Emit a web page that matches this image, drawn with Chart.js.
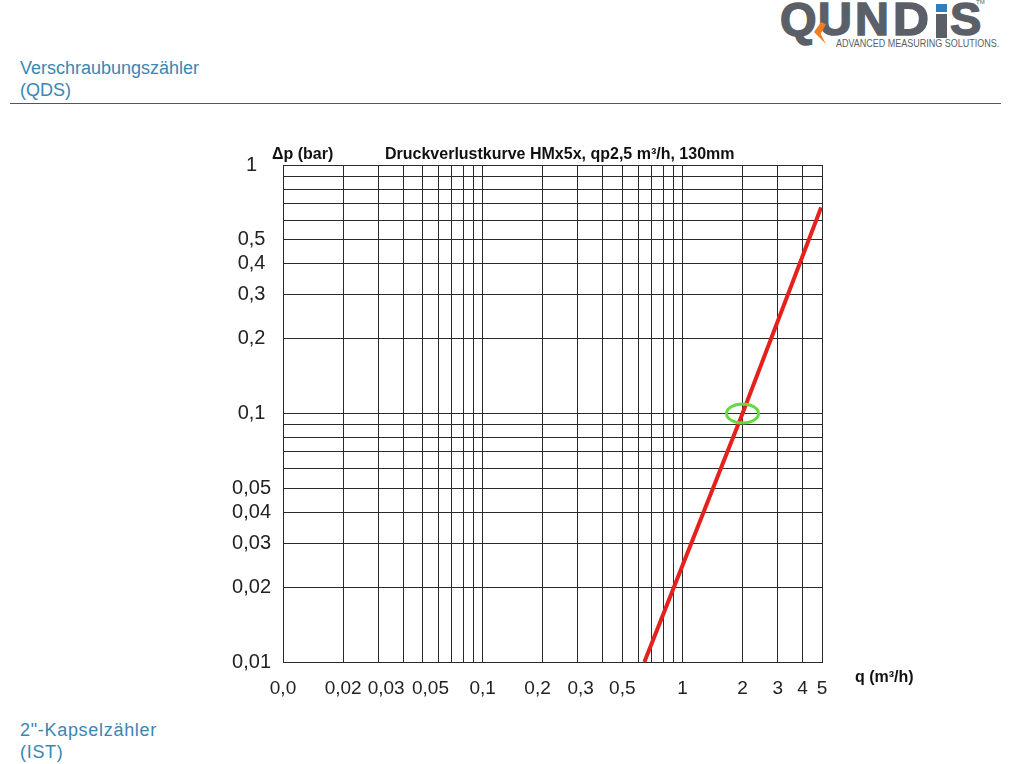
<!DOCTYPE html>
<html>
<head>
<meta charset="utf-8">
<script src="https://cdn.jsdelivr.net/npm/chart.js@4.4.1/dist/chart.umd.min.js"></script>
<style>
  body { margin: 0; background: #fff; font-family: "Liberation Sans", Arial, sans-serif; }
  #page { position: relative; width: 1024px; height: 764px; overflow: hidden; }
  .blue { position: absolute; left: 20px; color: #3a86b3; font-size: 18px; line-height: 22px; }
  #rule { position: absolute; left: 10px; top: 103px; width: 991px; height: 1px; background: #555; }
  #logo span, #logo div { position: absolute; }
  #logo .l { top: -9px; font-size: 47px; font-weight: bold; color: #5b6068; -webkit-text-stroke: 1.5px #5b6068; }
  #logo .stem { left: 936px; top: 14px; width: 11px; height: 24px; background: #5b6068; }
  #logo .dot { left: 936px; top: 4px; width: 11px; height: 8px; background: #2f7fc0; }
  #logo .flash { left: 814px; top: 22px; width: 12px; height: 22px; background: #f07d1e;
                 clip-path: polygon(60% 0, 100% 10%, 55% 55%, 100% 100%, 0 45%); }
  #logo .tm { left: 976px; top: -1px; font-size: 6px; color: #5b6068; }
  #logo .sub { left: 836px; top: 38px; font-size: 10px; color: #5b6068; white-space: nowrap;
               transform: scaleX(0.9); transform-origin: left top; }
  canvas { position: absolute; left: 0; top: 0; }
</style>
</head>
<body>
<div id="page">
  <div id="logo">
    <span class="l" style="left:780px">Q</span>
    <span class="l" style="left:818px">U</span>
    <span class="l" style="left:855px">N</span>
    <span class="l" style="left:893px; transform:scaleX(1.06); transform-origin:left top">D</span>
    <div class="stem"></div>
    <div class="dot"></div>
    <span class="l" style="left:950px">S</span>
    <div class="flash"></div>
    <span class="tm">TM</span>
    <span class="sub">ADVANCED MEASURING SOLUTIONS.</span>
  </div>
  <div class="blue" style="top:57px">Verschraubungszähler<br>(QDS)</div>
  <div id="rule"></div>
  <div class="blue" style="top:719px; letter-spacing:0.7px">2"-Kapselzähler<br>(IST)</div>
  <canvas id="chart" width="1024" height="764"></canvas>
</div>
<script>
// Gitter und Beschriftungen (log-log)
const xTickValues = [0.01, 0.02, 0.03, 0.04, 0.05, 0.06, 0.07, 0.08, 0.09,
                     0.1, 0.2, 0.3, 0.4, 0.5, 0.6, 0.7, 0.8, 0.9, 1, 2, 3, 4, 5];
// Beschriftungen wie im Original leicht versetzt (Leerzeichen)
const xTickLabels = ['0,0', '0,02', '\u00a0\u00a0\u00a00,03', '', '\u00a0\u00a0\u00a00,05', '', '', '', '',
                     '0,1', '0,2\u00a0\u00a0', '\u00a00,3', '', '0,5', '', '', '', '', '1', '2', '3', '4', '5'];
const yTickValues = [0.01, 0.02, 0.03, 0.04, 0.05, 0.06, 0.07, 0.08, 0.09,
                     0.1, 0.2, 0.3, 0.4, 0.5, 0.6, 0.7, 0.8, 0.9, 1];
const yTickLabels = ['0,01', '0,02', '0,03', '0,04', '0,05', '', '', '', '',
                     '0,1', '0,2', '0,3', '0,4', '0,5', '', '', '', '', '1'];

// Druckverlustkurve (q in m³/h, Δp in bar)
const qValues = [0.645, 2, 4.95];
const dpValues = [0.01, 0.1, 0.675];

// Markierung bei qp
const markQ = 2;
const markDp = 0.1;

const fontFam = '"Liberation Sans", Arial, sans-serif';

const textPlugin = {
  id: 'texte',
  afterDraw(chart) {
    const { ctx, chartArea: a, scales } = chart;
    ctx.save();
    // grüner Kreis
    const cx = scales.x.getPixelForValue(markQ);
    const cy = scales.y.getPixelForValue(markDp);
    ctx.strokeStyle = '#62dc3c';
    ctx.lineWidth = 3;
    ctx.beginPath();
    ctx.ellipse(cx, cy, 16, 9.5, 0, 0, Math.PI * 2);
    ctx.stroke();

    ctx.fillStyle = '#111';
    ctx.font = 'bold 16px ' + fontFam;
    ctx.textBaseline = 'middle';
    ctx.textAlign = 'left';
    ctx.fillText('Δp (bar)', a.left - 11, a.top - 10);
    ctx.fillText('Druckverlustkurve HMx5x, qp2,5 m³/h, 130mm', a.left + 102, a.top - 10);
    ctx.fillText('q (m³/h)', a.right + 33, a.bottom + 16);
    ctx.restore();
  }
};

new Chart(document.getElementById('chart'), {
  type: 'scatter',
  data: {
    datasets: [{
      data: qValues.map((q, i) => ({ x: q, y: dpValues[i] })),
      showLine: true,
      borderColor: '#e5211d',
      borderWidth: 4,
      pointRadius: 0,
      fill: false
    }]
  },
  options: {
    responsive: false,
    animation: false,
    devicePixelRatio: 1,
    layout: { padding: { left: 223, top: 165, right: 202, bottom: 62 } },
    plugins: { legend: { display: false }, tooltip: { enabled: false } },
    scales: {
      x: {
        type: 'logarithmic',
        min: 0.01,
        max: 5,
        afterBuildTicks: s => { s.ticks = xTickValues.map(v => ({ value: v })); },
        afterFit: s => { s.height = 40; },
        ticks: {
          autoSkip: false,
          maxRotation: 0,
          padding: 15,
          color: '#222',
          font: { family: fontFam, size: 19 },
          callback: (v, i) => xTickLabels[i]
        },
        grid: { color: '#2a2a2a', lineWidth: 1, drawTicks: false },
        border: { color: '#2a2a2a', width: 1 }
      },
      y: {
        type: 'logarithmic',
        min: 0.01,
        max: 1,
        afterBuildTicks: s => { s.ticks = yTickValues.map(v => ({ value: v })); },
        afterFit: s => { s.width = 60; },
        ticks: {
          autoSkip: false,
          padding: 12,
          crossAlign: 'center',
          color: '#222',
          font: { family: fontFam, size: 20 },
          callback: (v, i) => yTickLabels[i]
        },
        grid: { color: '#2a2a2a', lineWidth: 1, drawTicks: false },
        border: { color: '#2a2a2a', width: 1 }
      }
    }
  },
  plugins: [textPlugin]
});
</script>
</body>
</html>
